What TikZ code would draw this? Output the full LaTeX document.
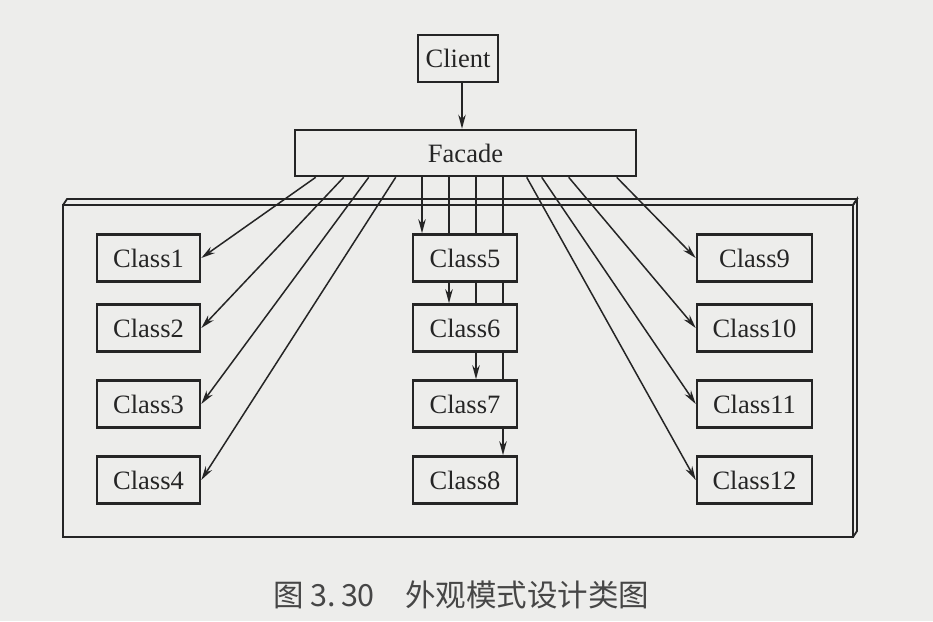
\documentclass[tikz,border=0pt]{standalone}
\usepackage{fontspec}
\setmainfont{Liberation Serif}
\newfontfamily\cjk{Noto Sans CJK SC}
\usetikzlibrary{arrows.meta}
\pgfdeclarelayer{back}
\pgfdeclarelayer{mid}
\pgfsetlayers{back,mid,main}
\definecolor{paper}{HTML}{EDEDEB}
\definecolor{ink}{HTML}{252525}
\tikzset{
  cls/.style={draw=ink, line width=2.6pt, fill=paper, text=ink, inner sep=0pt,
    minimum height=47pt, font=\fontsize{26.5}{30}\selectfont},
  arr/.style={draw=ink, line width=1.5pt, -{Stealth[length=14pt,width=7.5pt]}},
  frame/.style={draw=ink, line width=2.6pt, line join=miter},
}
\begin{document}
\begin{tikzpicture}[x=1pt,y=-1pt]
\begin{pgfonlayer}{back}
  \fill[paper] (0,0) rectangle (933,621);
  \useasboundingbox (0,0) rectangle (933,621);
  % 3D frame
  \draw[frame, fill=paper] (63,205) rectangle (853,537);
  \draw[frame, line width=1.8pt] (63,205) -- (67,199) -- (857,199) -- (853,205);
  \draw[frame, line width=1.8pt] (853,205) -- (857,199) -- (857,531) -- (853,537);
\end{pgfonlayer}

\node[cls, minimum width=80pt]  (cl)  at (458,58.5) {Client};
\node[cls, minimum width=341pt, minimum height=46pt] (fac) at (465.5,153) {Facade};

\node[cls, minimum width=103pt] (c1) at (148.5,258) {Class1};
\node[cls, minimum width=103pt] (c2) at (148.5,328) {Class2};
\node[cls, minimum width=103pt] (c3) at (148.5,404) {Class3};
\node[cls, minimum width=103pt] (c4) at (148.5,480) {Class4};

\node[cls, minimum width=104pt] (c5) at (465,258) {Class5};
\node[cls, minimum width=104pt] (c6) at (465,328) {Class6};
\node[cls, minimum width=104pt] (c7) at (465,404) {Class7};
\node[cls, minimum width=104pt] (c8) at (465,480) {Class8};

\node[cls, minimum width=115pt] (c9)  at (754.5,258) {Class9};
\node[cls, minimum width=115pt] (c10) at (754.5,328) {Class10};
\node[cls, minimum width=115pt] (c11) at (754.5,404) {Class11};
\node[cls, minimum width=115pt] (c12) at (754.5,480) {Class12};

\coordinate (v0) at (462,0);
\coordinate (v5) at (422,0);
\coordinate (v6) at (449,0);
\coordinate (v7) at (476,0);
\coordinate (v8) at (503,0);

\begin{pgfonlayer}{mid}
  \draw[arr] (v0 |- cl.south) -- (v0 |- fac.north);
  % left fan
  \draw[arr] ([xshift=22pt]fac.south west) -- (c1.east);
  \draw[arr] ([xshift=50pt]fac.south west) -- (c2.east);
  \draw[arr] ([xshift=75pt]fac.south west) -- (c3.east);
  \draw[arr] ([xshift=102pt]fac.south west) -- (c4.east);
  % verticals
  \draw[arr] (v5 |- fac.south) -- (v5 |- c5.north);
  \draw[arr] (v6 |- fac.south) -- (v6 |- c6.north);
  \draw[arr] (v7 |- fac.south) -- (v7 |- c7.north);
  \draw[arr] (v8 |- fac.south) -- (v8 |- c8.north);
  % right fan
  \draw[arr] ([xshift=233pt]fac.south west) -- (c12.west);
  \draw[arr] ([xshift=248pt]fac.south west) -- (c11.west);
  \draw[arr] ([xshift=275pt]fac.south west) -- (c10.west);
  \draw[arr] ([xshift=323pt]fac.south west) -- (c9.west);
\end{pgfonlayer}

\node[text=ink!85, font=\cjk\fontsize{30.5}{34}\selectfont, inner sep=0pt, anchor=west] (cap) at (273,595) {图 3.\,30\hspace{1em}外观模式设计类图};
\end{tikzpicture}
\end{document}
